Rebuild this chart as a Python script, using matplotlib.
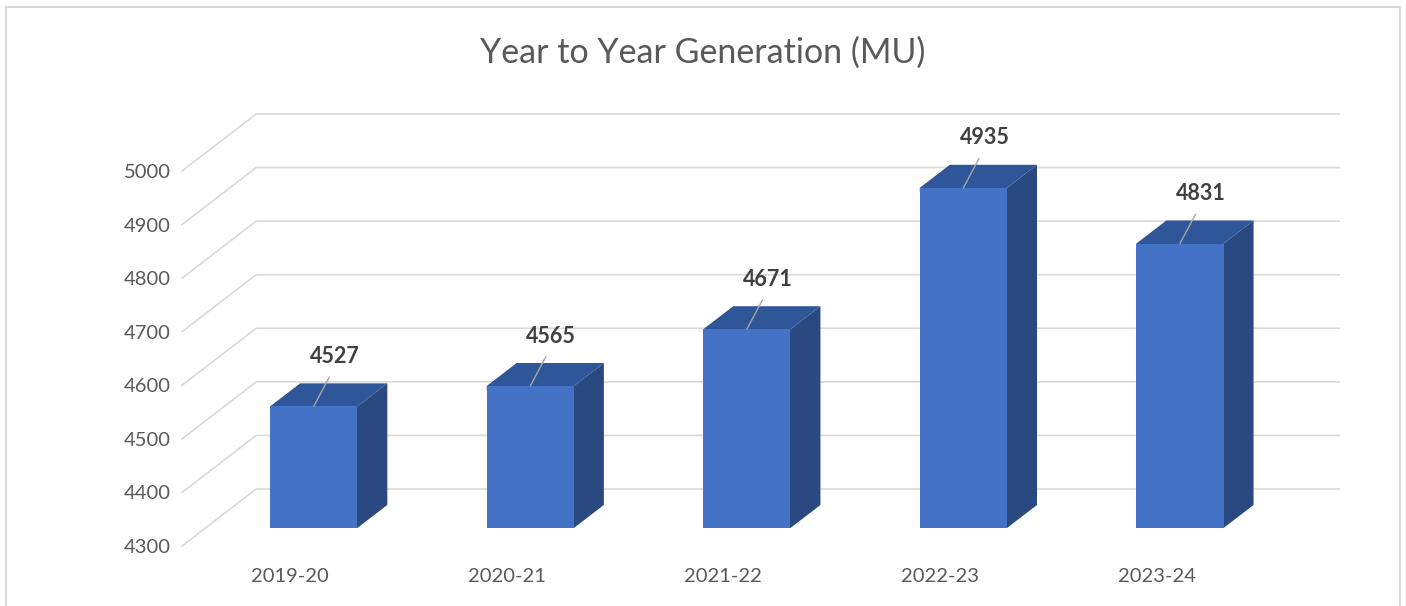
import matplotlib.pyplot as plt
from matplotlib.patches import Polygon, Rectangle


# -----------------------------
# Data
# -----------------------------

YEARS = ["2019-20", "2020-21", "2021-22", "2022-23", "2023-24"]
GENERATION_MU = [4527, 4565, 4671, 4935, 4831]

Y_MIN = 4300
Y_MAX = 5000
Y_STEP = 100

# -----------------------------
# Style / fake 3D geometry
# -----------------------------

FONT = ["Lato", "DejaVu Sans"]
TEXT_GREY = "#595959"
LABEL_GREY = "#404040"
GRID_GREY = "#D9D9D9"
FRONT_BLUE = "#4472C4"
TOP_BLUE = "#30569A"
SIDE_BLUE = "#2A4981"

# full wall depth, in data units (x: categories, y: values)
DEPTH_X = 0.3426
DEPTH_Y = 106.4
# bars sit between these fractions of the depth
BAR_F0 = 0.316
BAR_F1 = 0.72
BAR_HALF = 0.2014

W, H = 1406, 606


def main():
    fig = plt.figure(figsize=(W / 100, H / 100), dpi=100)

    # plot area in pixels: left 182, right 1339, top 114, bottom 546
    ax = fig.add_axes([182 / W, (H - 546) / H, (1339 - 182) / W, (546 - 114) / H])
    ax.set_xlim(-0.5, 4.5 + DEPTH_X)
    ax.set_ylim(Y_MIN, Y_MAX + DEPTH_Y)
    for s in ax.spines.values():
        s.set_visible(False)

    # gridlines: diagonal on the side, then back wall
    levels = list(range(Y_MIN, Y_MAX + 1, Y_STEP))
    for v in levels:
        ax.plot(
            [-0.5, -0.5 + DEPTH_X, 4.5 + DEPTH_X],
            [v, v + DEPTH_Y, v + DEPTH_Y],
            color=GRID_GREY, linewidth=1.2, zorder=1, clip_on=False,
        )

    x_front = [i + BAR_F0 * DEPTH_X for i in range(len(YEARS))]
    heights = [v - Y_MIN for v in GENERATION_MU]

    ax.bar(
        x_front, heights, width=2 * BAR_HALF,
        bottom=Y_MIN + BAR_F0 * DEPTH_Y,
        color=FRONT_BLUE, linewidth=0, zorder=3,
    )

    dx = (BAR_F1 - BAR_F0) * DEPTH_X
    dy = (BAR_F1 - BAR_F0) * DEPTH_Y
    base = Y_MIN + BAR_F0 * DEPTH_Y

    for xc, v in zip(x_front, GENERATION_MU):
        top = v + BAR_F0 * DEPTH_Y
        left = xc - BAR_HALF
        right = xc + BAR_HALF

        # side and lid tuck a little behind the front face so no seam shows
        side = Polygon(
            [(right - 0.02, base), (right, base), (right + dx, base + dy),
             (right + dx, top + dy), (right, top), (right - 0.02, top)],
            closed=True, facecolor=SIDE_BLUE, edgecolor="none", zorder=2,
        )
        lid = Polygon(
            [(left, top - 8), (right, top - 8), (right, top),
             (right + dx, top + dy), (left + dx, top + dy), (left, top)],
            closed=True, facecolor=TOP_BLUE, edgecolor="none", zorder=2,
        )
        ax.add_patch(side)
        ax.add_patch(lid)

        ax.annotate(
            str(v),
            (xc, top),
            xytext=(21, 50),
            textcoords="offset pixels",
            ha="center", va="center",
            fontsize=15.5, fontweight="bold", color=LABEL_GREY,
            family=FONT, zorder=5,
            arrowprops=dict(
                arrowstyle="-", color="#A6A6A6", linewidth=1.0,
                shrinkA=6, shrinkB=0, relpos=(0.5, 0.0),
            ),
        )

    ax.set_yticks(levels)
    ax.set_yticklabels([str(v) for v in levels])
    ax.set_xticks(range(len(YEARS)))
    ax.set_xticklabels(YEARS)
    ax.tick_params(axis="both", length=0, colors=TEXT_GREY, labelsize=14.5)
    ax.tick_params(axis="y", pad=8)
    ax.tick_params(axis="x", pad=16)
    for lab in ax.get_xticklabels() + ax.get_yticklabels():
        lab.set_family(FONT)

    fig.text(
        0.5, 1 - 53 / H, "Year to Year Generation (MU)",
        ha="center", va="center", fontsize=24.5, color=TEXT_GREY, family=FONT,
    )

    # chart area border
    fig.add_artist(Rectangle(
        (6 / W, -0.05), (1400 - 6) / W, 1.05 - 7 / H,
        transform=fig.transFigure, fill=False, edgecolor=GRID_GREY, linewidth=1.5,
    ))

    fig.savefig("out.png", dpi=100)
    plt.close(fig)


if __name__ == "__main__":
    main()
